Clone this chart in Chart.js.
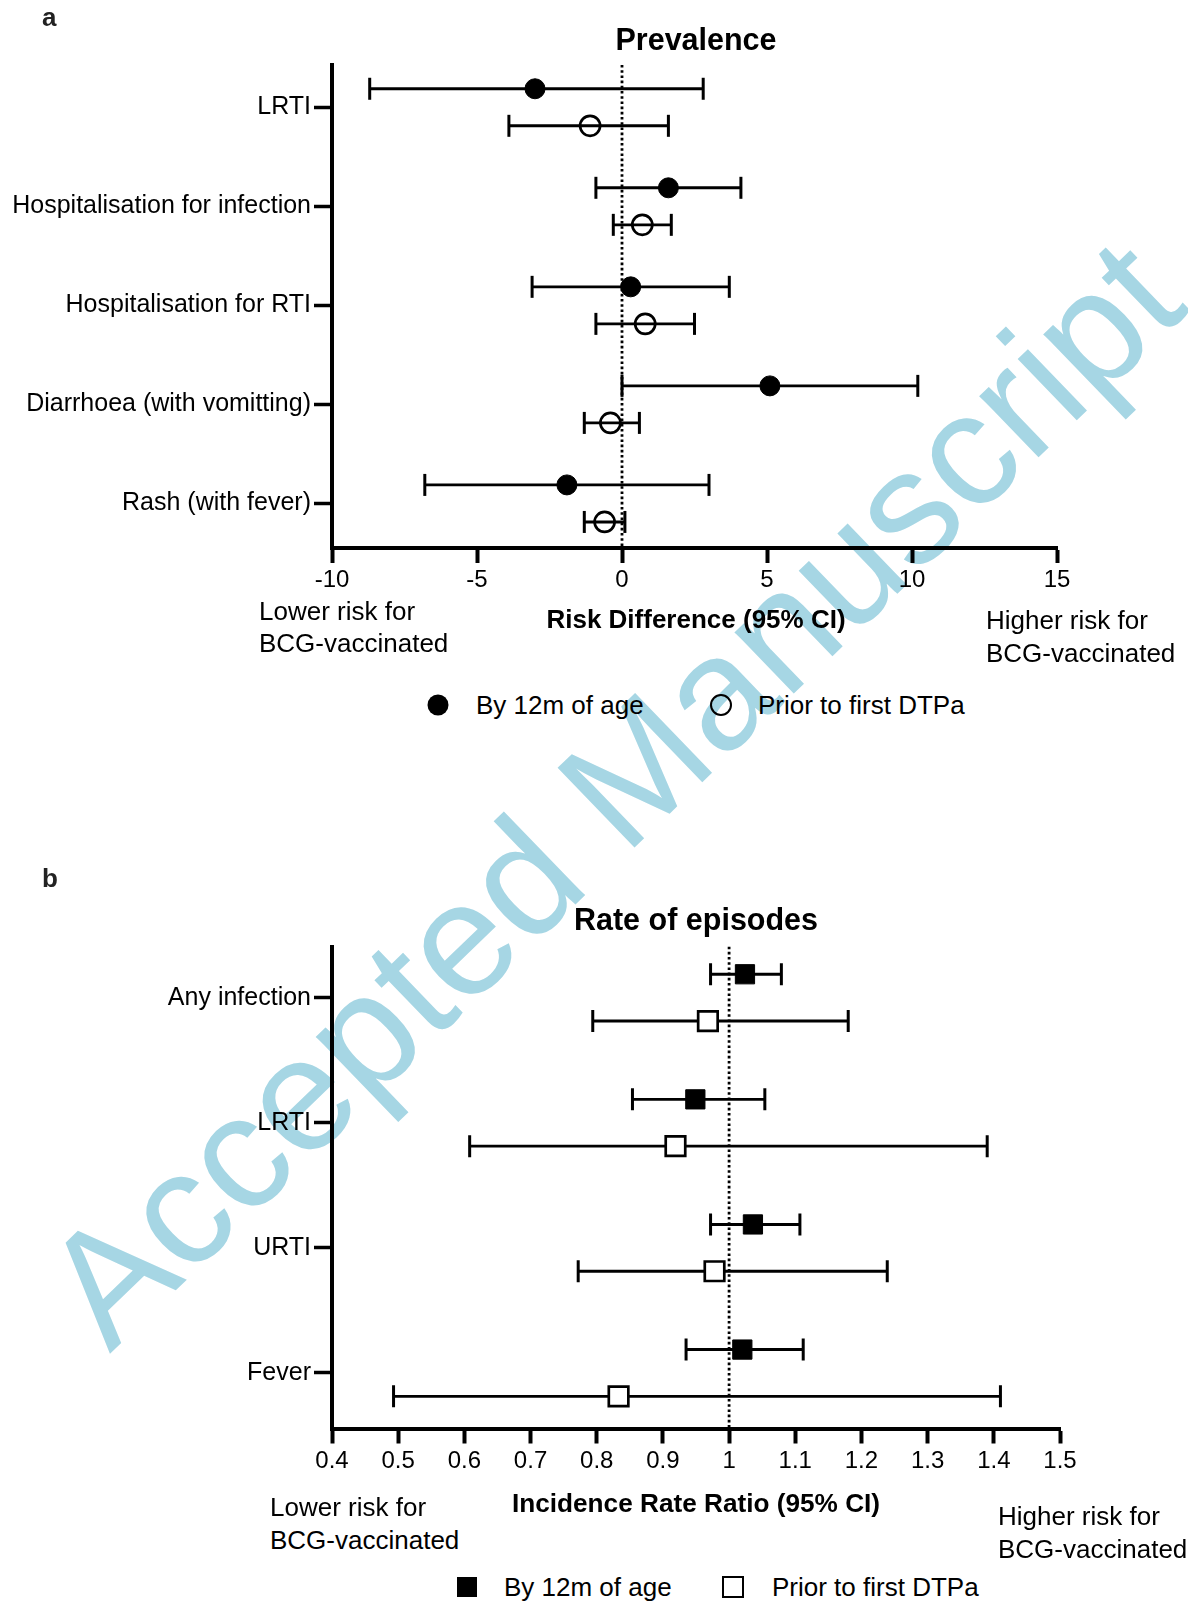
<!DOCTYPE html>
<html>
<head>
<meta charset="utf-8">
<script src="https://cdn.jsdelivr.net/npm/chart.js@4.4.1/dist/chart.umd.min.js"></script>
<style>
  html, body { margin:0; padding:0; background:#fff; }
  body { width:1188px; height:1605px; position:relative; overflow:hidden;
         font-family:"Liberation Sans", Arial, Helvetica, sans-serif; color:#000; }
  .wm { position:absolute; left:612px; top:792px; font-size:161px; line-height:1;
        color:rgb(166,214,228); white-space:nowrap; z-index:0;
        transform:translate(-50%,-50%) rotate(-44deg); }
  .cv { position:absolute; left:0; z-index:1; }
  .t { position:absolute; white-space:nowrap; z-index:2; line-height:1; }
  .c { transform:translate(-50%,-50%); }
  .l { transform:translateY(-50%); }
  .b { font-weight:bold; }
  .mk { position:absolute; z-index:2; box-sizing:border-box; transform:translate(-50%,-50%); }
</style>
</head>
<body>
<div class="wm">Accepted Manuscript</div>

<canvas id="chartA" class="cv" style="top:0px" width="1188" height="640"></canvas>
<canvas id="chartB" class="cv" style="top:800px" width="1188" height="720"></canvas>

<!-- panel a texts -->
<div class="t b" style="left:42px;top:4px;font-size:26px;color:#222">a</div>
<div class="t b c" style="left:696px;top:39px;font-size:30.5px">Prevalence</div>
<div class="t b c" style="left:696px;top:619px;font-size:26px">Risk Difference (95% CI)</div>
<div class="t l" style="left:259px;top:611px;font-size:26px">Lower risk for</div>
<div class="t l" style="left:259px;top:643px;font-size:26px">BCG-vaccinated</div>
<div class="t l" style="left:986px;top:620px;font-size:26px">Higher risk for</div>
<div class="t l" style="left:986px;top:653px;font-size:26px">BCG-vaccinated</div>
<div class="mk" style="left:438px;top:705px;width:21px;height:21px;border-radius:50%;background:#000"></div>
<div class="t l" style="left:476px;top:705px;font-size:26px">By 12m of age</div>
<div class="mk" style="left:721px;top:705px;width:22px;height:22px;border-radius:50%;border:2.7px solid #000"></div>
<div class="t l" style="left:758px;top:705px;font-size:26px">Prior to first DTPa</div>

<!-- panel b texts -->
<div class="t b" style="left:42px;top:865px;font-size:26px;color:#222">b</div>
<div class="t b c" style="left:696px;top:919px;font-size:30.5px">Rate of episodes</div>
<div class="t b c" style="left:696px;top:1503px;font-size:26.2px">Incidence Rate Ratio (95% CI)</div>
<div class="t l" style="left:270px;top:1507px;font-size:26px">Lower risk for</div>
<div class="t l" style="left:270px;top:1540px;font-size:26px">BCG-vaccinated</div>
<div class="t l" style="left:998px;top:1516px;font-size:26px">Higher risk for</div>
<div class="t l" style="left:998px;top:1549px;font-size:26px">BCG-vaccinated</div>
<div class="mk" style="left:467px;top:1587px;width:20px;height:20px;background:#000"></div>
<div class="t l" style="left:504px;top:1587px;font-size:26px">By 12m of age</div>
<div class="mk" style="left:733px;top:1587px;width:22px;height:22px;border:2.7px solid #000;background:#fff"></div>
<div class="t l" style="left:772px;top:1587px;font-size:26px">Prior to first DTPa</div>

<script>
// ---------- Panel a: Prevalence (risk difference) ----------
const categoriesA = ['LRTI', 'Hospitalisation for infection', 'Hospitalisation for RTI',
                     'Diarrhoea (with vomitting)', 'Rash (with fever)'];
const by12EstA   = [-3.0, 1.6, 0.3, 5.1, -1.9];
const by12LowA   = [-8.7, -0.9, -3.1, 0.0, -6.8];
const by12HighA  = [ 2.8, 4.1, 3.7, 10.2, 3.0];
const priorEstA  = [-1.1, 0.7, 0.8, -0.4, -0.6];
const priorLowA  = [-3.9, -0.3, -0.9, -1.3, -1.3];
const priorHighA = [ 1.6, 1.7, 2.5, 0.6, 0.1];
const xTicksA    = [-10, -5, 0, 5, 10, 15];

// ---------- Panel b: Rate of episodes (incidence rate ratio) ----------
const categoriesB = ['Any infection', 'LRTI', 'URTI', 'Fever'];
const by12EstB   = [1.024, 0.949, 1.036, 1.020];
const by12LowB   = [0.972, 0.854, 0.972, 0.935];
const by12HighB  = [1.079, 1.054, 1.107, 1.112];
const priorEstB  = [0.968, 0.919, 0.978, 0.833];
const priorLowB  = [0.794, 0.608, 0.772, 0.493];
const priorHighB = [1.180, 1.390, 1.239, 1.410];
const xTicksB    = [0.4, 0.5, 0.6, 0.7, 0.8, 0.9, 1, 1.1, 1.2, 1.3, 1.4, 1.5];

Chart.defaults.font.family = "'Liberation Sans', Arial, Helvetica, sans-serif";
Chart.defaults.color = '#000';

function makeChart(id, cfg) {
  const ds = [];
  // reference (no-effect) dotted line
  ds.push({
    data: [{x: cfg.ref, y: cfg.yMin}, {x: cfg.ref, y: cfg.yMax}],
    showLine: true, borderColor: '#000', borderWidth: 2.8, borderDash: [2.6, 2.6],
    pointRadius: 0, order: 3
  });
  cfg.series.forEach(s => {
    cfg.cats.forEach((c, i) => {
      ds.push({
        data: [{x: s.lo[i], y: i + s.off}, {x: s.hi[i], y: i + s.off}],
        showLine: true, borderColor: '#000', borderWidth: 2.9,
        pointStyle: 'line', pointRotation: 90, pointRadius: 11,
        pointBorderWidth: 3, pointBorderColor: '#000', pointBackgroundColor: '#000',
        order: 2
      });
    });
    ds.push({
      data: cfg.cats.map((c, i) => ({x: s.est[i], y: i + s.off})),
      showLine: false, pointStyle: s.style, pointRadius: s.r,
      pointBorderWidth: s.bw, pointBorderColor: '#000', pointBackgroundColor: s.fill,
      order: 1
    });
  });

  new Chart(document.getElementById(id), {
    type: 'scatter',
    data: { datasets: ds },
    options: {
      animation: false, responsive: false, maintainAspectRatio: false, devicePixelRatio: 1,
      events: [],
      layout: { padding: cfg.padding },
      plugins: { legend: { display: false }, tooltip: { enabled: false } },
      scales: {
        x: {
          type: 'linear', min: cfg.xMin, max: cfg.xMax,
          afterBuildTicks: sc => { sc.ticks = cfg.xTicks.map(v => ({value: v})); },
          afterFit: sc => { sc.height = 60; },
          border: { display: true, width: 4, color: '#000' },
          grid: { display: true, drawOnChartArea: false, drawTicks: true,
                  tickLength: 15, tickWidth: 4, tickColor: '#000' },
          ticks: { color: '#000', font: { size: 24 }, padding: 3, maxRotation: 0,
                   autoSkip: false, callback: v => String(+(+v).toFixed(1)) }
        },
        y: {
          type: 'linear', reverse: true, min: cfg.yMin, max: cfg.yMax,
          afterBuildTicks: sc => { sc.ticks = cfg.cats.map((c, i) => ({value: i})); },
          afterFit: sc => { sc.width = 332; },
          border: { display: true, width: 4, color: '#000' },
          grid: { display: true, drawOnChartArea: false, drawTicks: true,
                  tickLength: 18, tickWidth: 3.5, tickColor: '#000' },
          ticks: { color: '#000', font: { size: 25 }, padding: 3, autoSkip: false,
                   callback: v => cfg.cats[Math.round(v)] }
        }
      }
    }
  });
}

makeChart('chartA', {
  cats: categoriesA, xTicks: xTicksA, xMin: -10, xMax: 15, ref: 0,
  yMin: -0.427, yMax: 4.45,
  padding: { top: 65, left: 0, right: 131, bottom: 32 },
  series: [
    { est: by12EstA, lo: by12LowA, hi: by12HighA, off: -0.187,
      style: 'circle', r: 10, bw: 1, fill: '#000' },
    { est: priorEstA, lo: priorLowA, hi: priorHighA, off: 0.187,
      style: 'circle', r: 10, bw: 2.7, fill: 'rgba(0,0,0,0)' }
  ]
});

makeChart('chartB', {
  cats: categoriesB, xTicks: xTicksB, xMin: 0.4, xMax: 1.5, ref: 1,
  yMin: -0.408, yMax: 3.444,
  padding: { top: 146.6, left: 0, right: 128, bottom: 31.5 },
  series: [
    { est: by12EstB, lo: by12LowB, hi: by12HighB, off: -0.187,
      style: 'rect', r: 13.6, bw: 1, fill: '#000' },
    { est: priorEstB, lo: priorLowB, hi: priorHighB, off: 0.187,
      style: 'rect', r: 13.8, bw: 2.7, fill: '#fff' }
  ]
});
</script>
</body>
</html>
